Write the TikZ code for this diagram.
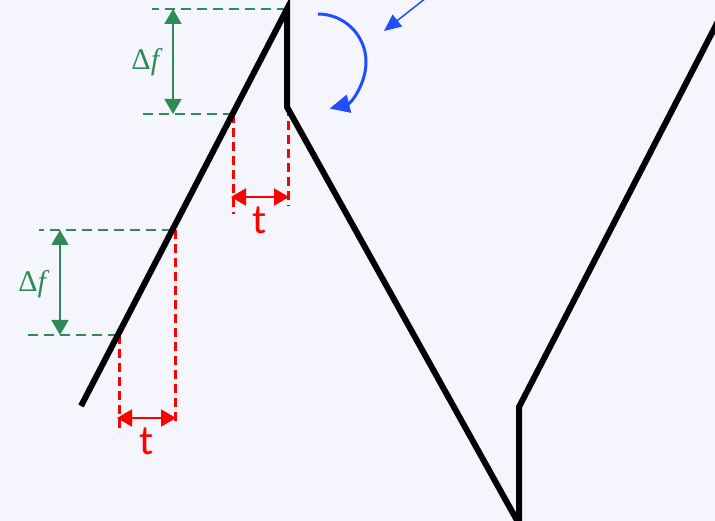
\documentclass[tikz,border=0pt]{standalone}
\usepackage{fontspec}
\newfontfamily\labfont{Carlito}
\newfontfamily\dffont{Liberation Serif}
\usetikzlibrary{arrows.meta}
\definecolor{bgc}{RGB}{245,246,253}
\definecolor{grn}{RGB}{46,139,87}
\definecolor{rd}{RGB}{255,0,0}
\definecolor{blu}{RGB}{31,78,255}
\tikzset{
  saw/.style={line width=6pt, line join=miter, black},
  gdash/.style={grn, line width=2.6pt, dash pattern=on 10pt off 6pt},
  rdash/.style={rd, line width=3pt, dash pattern=on 9pt off 5pt},
  garrow/.style={grn, line width=1.8pt, {Triangle[length=15pt,width=17pt]}-{Triangle[length=15pt,width=17pt]}},
  rarrow/.style={rd, line width=2pt, {Triangle[length=15pt,width=17pt]}-{Triangle[length=15pt,width=17pt]}},
  dflab/.style={grn, font=\dffont\fontsize{30}{34}\selectfont, inner sep=0pt},
  tlab/.style={rd, font=\labfont\fontsize{42}{46}\selectfont, inner sep=0pt},
}
\begin{document}
\begin{tikzpicture}[x=1pt,y=-1pt]
\fill[bgc] (0,0) rectangle (715,521);
\useasboundingbox (0,0) rectangle (715,521);
% key points
\coordinate (s0) at (81,406);
\coordinate (p1) at (287,9);
\coordinate (p2) at (287,107);
\coordinate (b1) at (519,524);
\coordinate (b0) at (519,407);
\coordinate (e1) at (730,-2);
\coordinate (q1) at (233,114);
\coordinate (q2) at (172,230);
\coordinate (q3) at (118,335);
% green dashed levels
\draw[gdash] (p1) -- (152,9);
\draw[gdash] (q1) -- (141,114);
\draw[gdash] (q2) -- (39,230);
\draw[gdash] (q3) -- (28,335);
% red dashed verticals
\draw[rdash] (q1) -- (233,214);
\draw[rdash] (288,107) -- (288,206);
\draw[rdash] (119,335) -- (119,433);
\draw[rdash] (175,230) -- (175,426);
% sawtooth
\draw[saw] (s0) -- (p1) -- (p2) -- (b1);
\draw[saw] (b1) -- (b0) -- (e1);
% delta f arrows
\coordinate (ga1) at (173,9);
\coordinate (ga2) at (173,114);
\coordinate (ga3) at (60,230);
\coordinate (ga4) at (60,335);
\draw[garrow] (ga1) -- (ga2);
\draw[garrow] (ga3) -- (ga4);
\node[dflab] (df1) at (147,62) {Δ\textit{f}};
\node[dflab] (df2) at (34,284) {Δ\textit{f}};
% t arrows
\coordinate (ra1) at (231,197);
\coordinate (ra2) at (289,197);
\coordinate (ra3) at (117,418);
\coordinate (ra4) at (176,418);
\draw[rarrow] (ra1) -- (ra2);
\draw[rarrow] (ra3) -- (ra4);
\node[tlab] (t1) at (260,220) {t};
\node[tlab] (t2) at (147,441) {t};
% blue arrows
\coordinate (c0) at (318,14);
\draw[blu, line width=3pt, -{Triangle[length=20pt,width=18pt]}] (c0) arc[start angle=90, end angle=-76, radius=48pt];
\coordinate (bl0) at (426,-2);
\coordinate (bl1) at (384,31);
\draw[blu, line width=1.5pt, -{Triangle[length=17pt,width=15pt]}] (bl0) -- (bl1);
\end{tikzpicture}
\end{document}
